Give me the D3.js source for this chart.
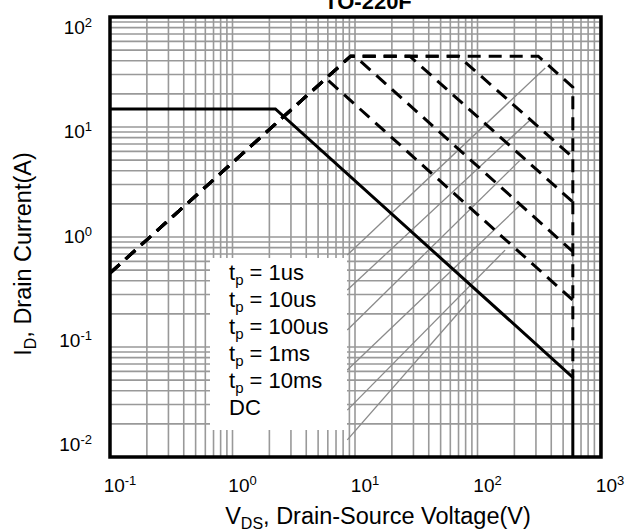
<!DOCTYPE html>
<html>
  <head>
    <style>
      body { margin: 0; background: #fff; }
      text { font-family: "Liberation Sans", Arial, sans-serif; }
    </style>
  </head>
  <body>
    <svg></svg>
    <script src="https://d3js.org/d3.v7.min.js"></script>
    <script type="text/javascript">

      // tick labels (exponents of ten)
      var xTickVals = [0.1, 1, 10, 100, 1000];
      var xTickExp = ["-1", "0", "1", "2", "3"];
      var yTickVals = [0.01, 0.1, 1, 10, 100];
      var yTickExp = ["-2", "-1", "0", "1", "2"];

      // SOA curves, [VDS (V), ID (A)]
      var tp1us = [[0.1, 0.47], [9.2, 44], [313, 44], [600, 23], [600, 0.053]];
      var tp10us = [[0.1, 0.47], [9.2, 44], [70, 44], [600, 5.3]];
      var tp100us = [[0.1, 0.47], [9.2, 44], [28, 44], [600, 2.08]];
      var tp1ms = [[0.1, 0.47], [9.2, 44], [10, 44], [600, 0.735]];
      var tp10ms = [[0.1, 0.47], [5.8, 27.6], [600, 0.267]];
      var dcLine = [[0.1, 14.6], [2.24, 14.6], [600, 0.053], [600, 0.01]];

      // thin grey diagonal lines behind the legend
      var greyLines = [
        [[8.65, 0.686], [357, 34.4]],
        [[8.65, 0.33], [269, 11.6]],
        [[8.65, 0.143], [223, 5.0]],
        [[8.65, 0.0618], [223, 1.95]],
        [[8.65, 0.0267], [168, 0.76]],
        [[8.65, 0.0143], [87, 0.27]]
      ];

      var legendLabels = ["1us", "10us", "100us", "1ms", "10ms"];

      var svgWidth = 631, svgHeight = 532;
      var svg = d3.select("svg")
        .attr("width", svgWidth)
        .attr("height", svgHeight);

      var x = d3.scaleLog().domain([0.1, 1000]).range([110, 600]);
      var y = d3.scaleLog().domain([0.01, 100]).range([457, 17]);
      // tick labels sit on their own even spacing
      var yLab = d3.scaleLog().domain([0.01, 100]).range([451, 34]);

      // grid
      svg.append("g").selectAll("line")
        .data(x.ticks())
        .join("line")
        .attr("x1", d => x(d)).attr("x2", d => x(d))
        .attr("y1", 17).attr("y2", 457)
        .attr("stroke", "#999").attr("stroke-width", 1.6);

      svg.append("g").selectAll("line")
        .data(y.ticks())
        .join("line")
        .attr("y1", d => y(d)).attr("y2", d => y(d))
        .attr("x1", 110).attr("x2", 600)
        .attr("stroke", "#999").attr("stroke-width", 1.6);

      var line = d3.line()
        .x(d => x(d[0]))
        .y(d => y(d[1]));

      svg.append("g").selectAll("path")
        .data(greyLines)
        .join("path")
        .attr("d", line)
        .attr("fill", "none")
        .attr("stroke", "#8a8a8a")
        .attr("stroke-width", 1.3);

      // legend box
      svg.append("rect")
        .attr("x", 210).attr("y", 258)
        .attr("width", 137).attr("height", 172)
        .attr("fill", "#fff");

      var legend = svg.append("g");
      legendLabels.forEach(function (lab, i) {
        var t = legend.append("text")
          .attr("x", 229)
          .attr("y", 280 + i * 27)
          .attr("font-size", 22);
        t.append("tspan").text("t");
        t.append("tspan").text("p").attr("font-size", 15).attr("dy", 5);
        t.append("tspan").text(" = " + lab).attr("dy", -5);
      });
      legend.append("text")
        .attr("x", 229).attr("y", 280 + 5 * 27)
        .attr("font-size", 22)
        .text("DC");

      // curves
      [tp1us, tp10us, tp100us, tp1ms, tp10ms].forEach(function (c) {
        svg.append("path")
          .attr("d", line(c))
          .attr("fill", "none")
          .attr("stroke", "#000")
          .attr("stroke-width", 3)
          .attr("stroke-dasharray", "13,8");
      });

      svg.append("path")
        .attr("d", line(dcLine))
        .attr("fill", "none")
        .attr("stroke", "#000")
        .attr("stroke-width", 3);

      // frame
      svg.append("rect")
        .attr("x", 110).attr("y", 17)
        .attr("width", 491).attr("height", 440)
        .attr("fill", "none")
        .attr("stroke", "#000")
        .attr("stroke-width", 3.5);

      // x tick labels
      xTickVals.forEach(function (v, i) {
        var t = svg.append("text")
          .attr("x", x(v) + 10)
          .attr("y", 492)
          .attr("font-size", 19)
          .attr("text-anchor", "middle");
        t.append("tspan").text("10");
        t.append("tspan").text(xTickExp[i]).attr("font-size", 13).attr("dy", -7);
      });

      // y tick labels
      yTickVals.forEach(function (v, i) {
        var t = svg.append("text")
          .attr("x", 92)
          .attr("y", yLab(v))
          .attr("font-size", 19)
          .attr("text-anchor", "end");
        t.append("tspan").text("10");
        t.append("tspan").text(yTickExp[i]).attr("font-size", 13).attr("dy", -7);
      });

      // titles
      svg.append("text")
        .attr("x", 368).attr("y", 9)
        .attr("font-size", 22)
        .attr("font-weight", "bold")
        .attr("text-anchor", "middle")
        .text("TO-220F");

      var xt = svg.append("text")
        .attr("x", 378).attr("y", 524)
        .attr("font-size", 23.5)
        .attr("text-anchor", "middle");
      xt.append("tspan").text("V");
      xt.append("tspan").text("DS").attr("font-size", 16).attr("dy", 5);
      xt.append("tspan").text(", Drain-Source Voltage(V)").attr("dy", -5);

      var yt = svg.append("text")
        .attr("transform", "translate(31,254) rotate(-90)")
        .attr("font-size", 23.5)
        .attr("text-anchor", "middle");
      yt.append("tspan").text("I");
      yt.append("tspan").text("D").attr("font-size", 16).attr("dy", 5);
      yt.append("tspan").text(", Drain Current(A)").attr("dy", -5);

    </script>
  </body>
</html>
